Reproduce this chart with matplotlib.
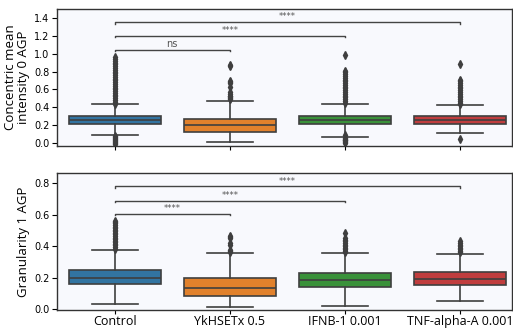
import numpy as np
import matplotlib.pyplot as plt

groups = ["Control", "YkHSETx 0.5", "IFNB-1 0.001", "TNF-alpha-A 0.001"]
colors = ["#3274a1", "#e1812c", "#3a923a", "#c03d3e"]

# concentric mean intensity 0 AGP: q1, median, q3, whisker low, whisker high
conc_q1 = [0.21, 0.117, 0.207, 0.21]
conc_med = [0.252, 0.196, 0.252, 0.254]
conc_q3 = [0.30, 0.263, 0.30, 0.30]
conc_lo = [0.083, 0.004, 0.068, 0.106]
conc_hi = [0.432, 0.466, 0.435, 0.424]
conc_fliers = [
    [-0.01, 0.0, 0.01, 0.02, 0.03, 0.04, 0.05, 0.06, 0.07,
     0.44, 0.46, 0.48, 0.50, 0.52, 0.54, 0.56, 0.58, 0.60, 0.62, 0.64,
     0.66, 0.68, 0.70, 0.72, 0.74, 0.76, 0.78, 0.80, 0.82, 0.84, 0.86,
     0.88, 0.90, 0.92, 0.94, 0.96],
    [0.49, 0.50, 0.51, 0.52, 0.53, 0.55, 0.57, 0.63, 0.67, 0.68, 0.69,
     0.86, 0.87],
    [-0.005, 0.005, 0.015, 0.025, 0.035, 0.045, 0.055, 0.085,
     0.45, 0.47, 0.49, 0.51, 0.53, 0.55, 0.57, 0.59, 0.61, 0.63, 0.65,
     0.67, 0.69, 0.71, 0.73, 0.75, 0.77, 0.79, 0.81, 0.985],
    [0.045, 0.43, 0.45, 0.47, 0.49, 0.51, 0.53, 0.55, 0.57, 0.59, 0.61,
     0.63, 0.65, 0.67, 0.69, 0.71, 0.88],
]

# granularity 1 AGP
gran_q1 = [0.159, 0.083, 0.142, 0.153]
gran_med = [0.20, 0.132, 0.185, 0.193]
gran_q3 = [0.246, 0.195, 0.227, 0.234]
gran_lo = [0.03, 0.015, 0.019, 0.053]
gran_hi = [0.378, 0.359, 0.355, 0.352]
gran_fliers = [
    [0.385, 0.395, 0.405, 0.415, 0.425, 0.435, 0.445, 0.455, 0.465, 0.475,
     0.485, 0.495, 0.505, 0.515, 0.525, 0.535, 0.545, 0.555, 0.56],
    [0.36, 0.37, 0.375, 0.41, 0.42, 0.45, 0.46, 0.465],
    [0.36, 0.37, 0.38, 0.39, 0.40, 0.41, 0.42, 0.43, 0.44, 0.45, 0.482],
    [0.36, 0.37, 0.38, 0.39, 0.40, 0.41, 0.42, 0.43],
]

# significance brackets: (group a, group b, height, label)
conc_sig = [(0, 1, 1.043, "ns"), (0, 2, 1.20, "****"), (0, 3, 1.355, "****")]
gran_sig = [(0, 1, 0.605, "****"), (0, 2, 0.69, "****"), (0, 3, 0.78, "****")]

label_font = ["Open Sans", "DejaVu Sans"]


def draw(ax, q1, med, q3, lo, hi, fliers, sig, drop, ylabel):
    stats = []
    for i in range(len(groups)):
        stats.append(dict(q1=q1[i], med=med[i], q3=q3[i], whislo=lo[i],
                          whishi=hi[i], fliers=fliers[i]))
    bp = ax.bxp(stats, positions=range(len(groups)), widths=0.8,
                patch_artist=True, showfliers=True,
                boxprops=dict(edgecolor="#3f3f3f", linewidth=1.2),
                medianprops=dict(color="#3f3f3f", linewidth=1.2),
                whiskerprops=dict(color="#3f3f3f", linewidth=1.2),
                capprops=dict(color="#3f3f3f", linewidth=1.2),
                flierprops=dict(marker="d", markerfacecolor="#3f3f3f",
                                markeredgecolor="#3f3f3f", markersize=3.6))
    for patch, c in zip(bp["boxes"], colors):
        patch.set_facecolor(c)
    for a, b, h, txt in sig:
        ax.plot([a, a, b, b], [h - drop, h, h, h - drop], color="#444444",
                lw=1.0)
        ax.text((a + b) / 2, h + drop * 0.6, txt, ha="center", va="bottom",
                color="#555555", fontsize=6 if txt != "ns" else 7)
    ax.set_facecolor("#f8f9fd")
    ax.set_xlim(-0.5, 3.45)
    ax.set_ylabel(ylabel, fontsize=9.5, family=label_font, labelpad=3,
                  linespacing=1.0)
    ax.tick_params(axis="y", labelsize=7, length=3.5, width=0.8, pad=2)
    ax.tick_params(axis="x", length=3, width=0.8, pad=0.5)
    for s in ax.spines.values():
        s.set_color("#333333")
        s.set_linewidth(1.0)


fig = plt.figure(figsize=(5.13, 3.31), dpi=100)
ax1 = fig.add_axes([57 / 513, 0.559, 455 / 513, 0.414])
ax2 = fig.add_axes([57 / 513, 0.0625, 455 / 513, 0.414])

draw(ax1, conc_q1, conc_med, conc_q3, conc_lo, conc_hi, conc_fliers,
     conc_sig, 0.015, "Concentric mean\nintensity 0 AGP")
ax1.set_ylim(-0.037, 1.504)
ax1.set_yticks([0.0, 0.2, 0.4, 0.6, 0.8, 1.0, 1.2, 1.4])
ax1.set_xticks(range(len(groups)))
ax1.set_xticklabels([])

draw(ax2, gran_q1, gran_med, gran_q3, gran_lo, gran_hi, gran_fliers,
     gran_sig, 0.008, "Granularity 1 AGP")
ax2.set_ylim(-0.008, 0.864)
ax2.set_yticks([0.0, 0.2, 0.4, 0.6, 0.8])
ax2.set_xticks(range(len(groups)))
ax2.set_xticklabels(groups, fontsize=9, family=label_font)

fig.savefig("out.png", dpi=100)
